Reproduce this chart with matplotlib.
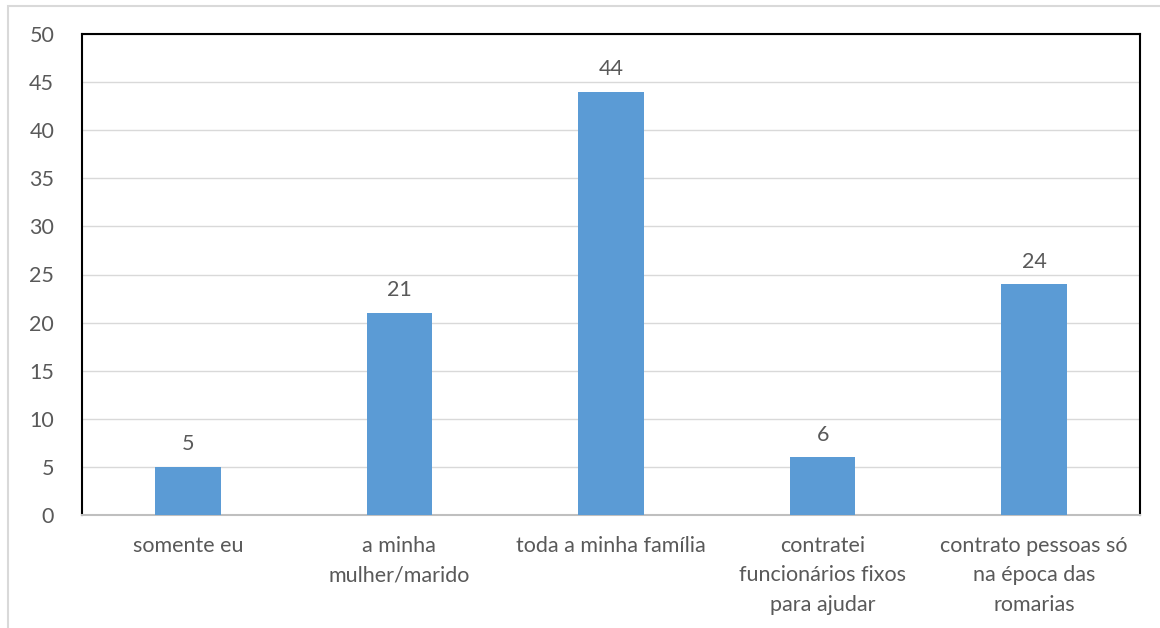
import matplotlib.pyplot as plt
from matplotlib.patches import Rectangle

categories = ["somente eu", "a minha\nmulher/marido", "toda a minha família",
              "contratei\nfuncionários fixos\npara ajudar",
              "contrato pessoas só\nna época das\nromarias"]
values = [5, 21, 44, 6, 24]
yticks = [0, 5, 10, 15, 20, 25, 30, 35, 40, 45, 50]

plt.rcParams['font.family'] = ['Lato', 'DejaVu Sans']
text_color = "#595959"
bar_color = "#5B9BD5"
fs = 15.5

fig = plt.figure(figsize=(11.6, 6.28), dpi=100)
ax = fig.add_axes([82 / 1160, 1 - 515 / 628, (1140 - 82) / 1160, (515 - 34) / 628])

# outer chart frame
fig.patches.append(Rectangle((8 / 1160, -0.1), 1.2, 1 - 6 / 628 + 0.1,
                             transform=fig.transFigure, fill=False,
                             edgecolor="#D9D9D9", linewidth=1.5))

x = list(range(len(categories)))
ax.bar(x, values, width=0.31, color=bar_color, zorder=3)
for xi, v in zip(x, values):
    ax.text(xi, v + 1.3, str(v), ha="center", va="bottom", fontsize=fs, color=text_color)

ax.set_xlim(-0.5, len(categories) - 0.5)
ax.set_ylim(0, 50)
ax.set_yticks(yticks)
ax.set_xticks(x)
ax.set_xticklabels(categories, fontsize=fs, color=text_color, linespacing=1.6)
ax.tick_params(axis="y", labelsize=fs, labelcolor=text_color, length=0, pad=20)
ax.tick_params(axis="x", length=0, pad=15)
ax.grid(axis="y", color="#D9D9D9", linewidth=1, zorder=0)

for side in ["left", "top", "right"]:
    ax.spines[side].set_color("black")
    ax.spines[side].set_linewidth(1.5)
ax.spines["bottom"].set_color("#BFBFBF")
ax.spines["bottom"].set_linewidth(1.5)

fig.savefig("out.png", dpi=100)
